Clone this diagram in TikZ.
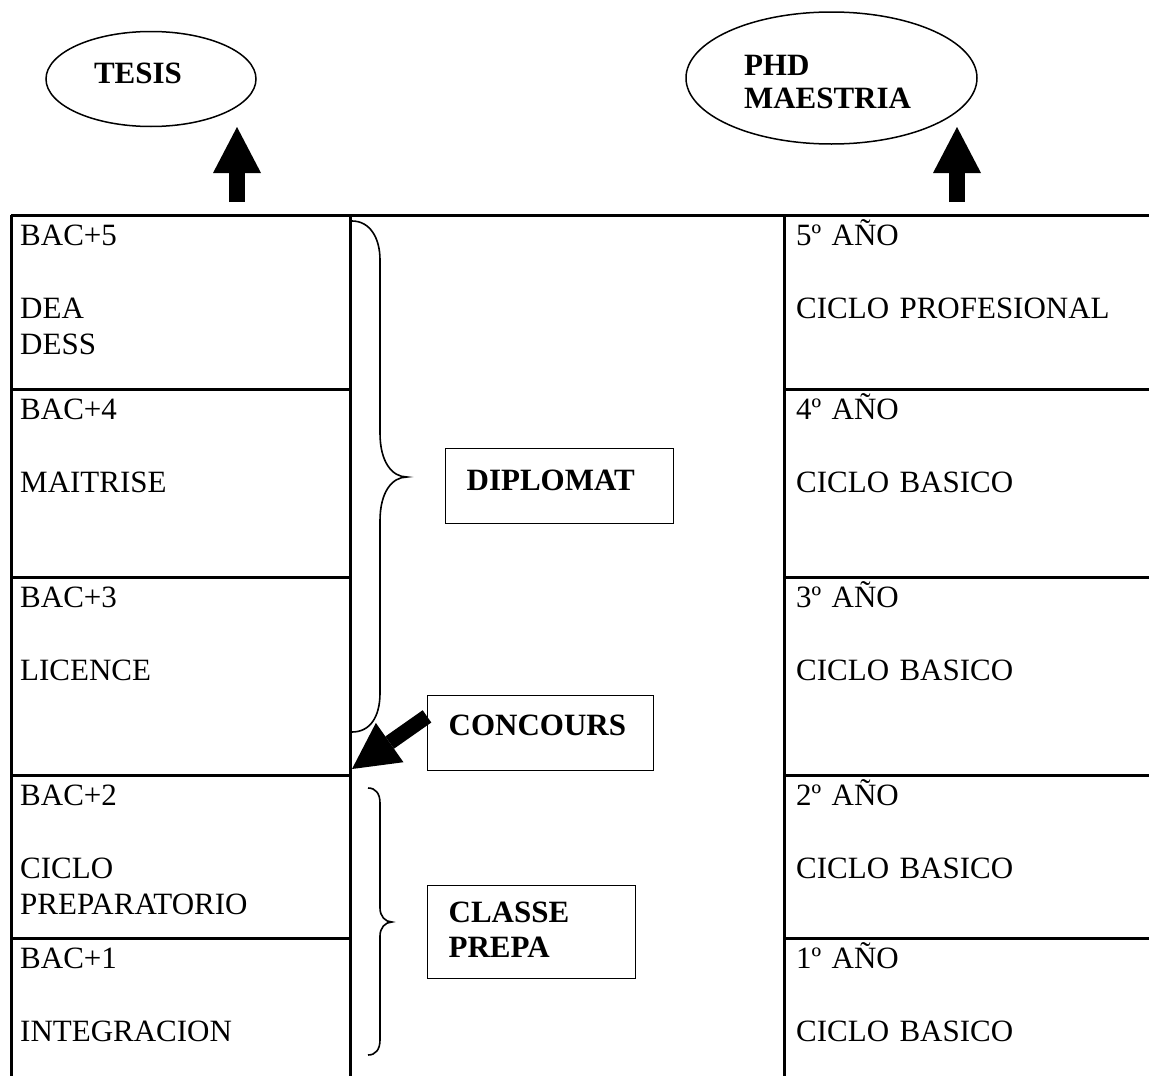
\documentclass[tikz,border=0pt]{standalone}
\usepackage{fontspec}
\setmainfont{Liberation Serif}
\usetikzlibrary{
    arrows.meta,
    shapes.geometric,
    calc
}
\tikzset{rule/.style={line width=3pt}}
\tikzset{cell/.style={anchor=north west, inner sep=0pt, align=left, text height=27pt, font=\fontsize{31}{36.5}\selectfont}}
\tikzset{tagbox/.style={draw, line width=1.3pt, anchor=north west, inner xsep=21pt, inner ysep=0pt, align=left, font=\fontsize{31}{35}\selectfont\bfseries}}
\tikzset{oval/.style={draw, ellipse, line width=1.5pt, inner sep=0pt, align=left, font=\fontsize{31}{33}\selectfont\bfseries}}
\tikzset{brace/.style={line width=1.6pt}}
\tikzset{blockarrow/.style={line width=16pt, -{Triangle[length=46pt 0, width=48pt 0, line width=0pt 0]}}}

\begin{document}
\begin{tikzpicture}[x=1pt, y=-1pt]
                        \useasboundingbox (0, 0) rectangle (1149, 1076);
                        % grilla
                        \draw[rule] (11, 215) -- (1149, 215);
                        \draw[rule] (11, 215) -- (11, 1076);
                        \draw[rule] (350, 215) -- (350, 1076);
                        \draw[rule] (784, 215) -- (784, 1076);
                        \foreach \y in {389, 577, 775, 938} {
                            \draw[rule] (11, \y) -- (350, \y);
                            \draw[rule] (784, \y) -- (1149, \y);
                        }
                        % columna izquierda
                        \node[cell, text width=320pt] (bac5) at (20, 218) {BAC+5\\[36.5pt]DEA\\DESS};
                        \node[cell, text width=320pt] (bac4) at (20, 392) {BAC+4\\[36.5pt]MAITRISE};
                        \node[cell, text width=320pt] (bac3) at (20, 580) {BAC+3\\[36.5pt]LICENCE};
                        \node[cell, text width=320pt] (bac2) at (20, 778) {BAC+2\\[36.5pt]CICLO\\PREPARATORIO};
                        \node[cell, text width=320pt] (bac1) at (20, 941) {BAC+1\\[36.5pt]INTEGRACION};
                        % columna derecha
                        \node[cell, text width=340pt] (anio5) at (796, 218) {5º AÑO\\[36.5pt]CICLO PROFESIONAL};
                        \node[cell, text width=340pt] (anio4) at (796, 392) {4º AÑO\\[36.5pt]CICLO BASICO};
                        \node[cell, text width=340pt] (anio3) at (796, 580) {3º AÑO\\[36.5pt]CICLO BASICO};
                        \node[cell, text width=340pt] (anio2) at (796, 778) {2º AÑO\\[36.5pt]CICLO BASICO};
                        \node[cell, text width=340pt] (anio1) at (796, 941) {1º AÑO\\[36.5pt]CICLO BASICO};
                        % ovalos
                        \node[oval, minimum width=210pt, minimum height=95pt, text width=114pt, text height=20.5pt, text depth=12.5pt] (tesis) at (151, 79) {TESIS};
                        \node[oval, minimum width=291pt, minimum height=132pt, text width=175pt, text height=27pt, text depth=33pt] (grado) at (831.5, 78) {PHD\\MAESTRIA};
                        % cuadros
                        \node[tagbox, text width=186pt, text height=42pt, text depth=33pt] (diplomat) at (445, 448) {DIPLOMAT};
                        \node[tagbox, text width=184pt, text height=40pt, text depth=35pt] (concours) at (427, 695) {CONCOURS};
                        \node[tagbox, text width=166pt, text height=37pt, text depth=56pt] (prepa) at (427, 885) {CLASSE\\PREPA};
                        % llaves
                        \draw[brace] (352, 221) .. controls (370, 221) and (380, 238) .. (380, 260)
                        -- (380, 433) .. controls (380, 462) and (392, 477) .. (407, 477)
                        .. controls (392, 477) and (380, 492) .. (380, 521)
                        -- (380, 693) .. controls (380, 717) and (370, 732) .. (352, 732);
                        \draw[brace] (368, 788) .. controls (376, 788) and (380, 794) .. (380, 803)
                        -- (380, 908) .. controls (380, 916) and (385, 922) .. (392, 922)
                        .. controls (385, 922) and (380, 928) .. (380, 936)
                        -- (380, 1040) .. controls (380, 1049) and (376, 1055) .. (368, 1055);
                        % flechas
                        \coordinate (tesisfoot) at (237, 202);
                        \coordinate (tesistip) at (237, 127);
                        \coordinate (gradofoot) at (957, 202);
                        \coordinate (gradotip) at (957, 127);
                        \coordinate (entry) at (352, 769);
                        \draw[blockarrow] (tesisfoot) -- (tesistip);
                        \draw[blockarrow] (gradofoot) -- (gradotip);
                        \draw[blockarrow, line width=15pt] ($(concours.north west)!0.28!(concours.south west)$) -- (entry);
                    \end{tikzpicture}
\end{document}
